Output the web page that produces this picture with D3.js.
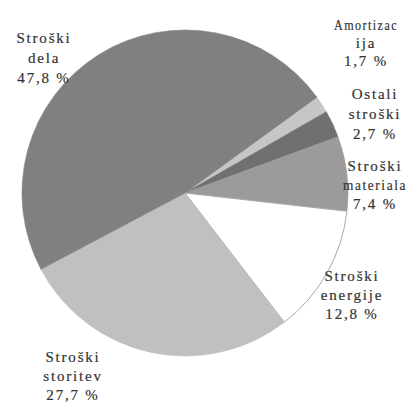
<!DOCTYPE html>
<html lang="sl">
<head>
<meta charset="UTF-8">
<title>Struktura stroškov</title>
<script src="https://cdn.jsdelivr.net/npm/d3@7"></script>
<style>
  body { margin: 0; background: #fff; }
</style>
</head>
<body>
<svg width="416" height="403"></svg>
<script>
// podatki (order = clockwise from upper right)
const categories = ['Amortizacija', 'Ostali stroški', 'Stroški materiala', 'Stroški energije', 'Stroški storitev', 'Stroški dela'];
const values = [1.7, 2.7, 7.4, 12.8, 27.7, 47.8];
const labelLines = [
  ['Amortizac', 'ija', '1,7 %'],
  ['Ostali', 'stroški', '2,7 %'],
  ['Stroški', 'materiala', '7,4 %'],
  ['Stroški', 'energije', '12,8 %'],
  ['Stroški', 'storitev', '27,7 %'],
  ['Stroški', 'dela', '47,8 %']
];

// layout
const colors = ['#c6c6c6', '#707070', '#9b9b9b', '#ffffff', '#c0c0c0', '#808080'];
const labelPos = [[366, 30, 18], [375, 99, 20], [375, 171, 19], [352, 281, 19], [73, 362, 19], [44, 43, 20]]; // x, first baseline, line height
const cx = 185, cy = 193, r = 163;
const start = 54 * Math.PI / 180;

const svg = d3.select('svg');
const g = svg.append('g').attr('transform', `translate(${cx},${cy})`);

const pie = d3.pie().sort(null).startAngle(start).endAngle(start + 2 * Math.PI);
const arc = d3.arc().innerRadius(0).outerRadius(r);

const data = pie(values);

g.selectAll('path')
  .data(data)
  .enter()
  .append('path')
  .attr('d', arc)
  .attr('fill', (d, i) => colors[i])
  .attr('stroke', (d, i) => colors[i] === '#ffffff' ? '#a8a8a8' : colors[i])
  .attr('stroke-width', (d, i) => colors[i] === '#ffffff' ? 1 : 0.6);

// labels
const labels = svg.selectAll('text.lbl')
  .data(categories)
  .enter()
  .append('text')
  .attr('class', 'lbl')
  .attr('text-anchor', 'middle')
  .style('font-family', "'Liberation Serif'")
  .style('font-size', '15px')
  .style('letter-spacing', '1.8px')
  .attr('fill', '#333')
  .attr('stroke', '#333')
  .attr('stroke-width', 0.2);

labels.each(function (d, i) {
  const [x, y0, lh] = labelPos[i];
  const t = d3.select(this);
  labelLines[i].forEach((line, j) => {
    const ts = t.append('tspan')
      .attr('x', x)
      .attr('y', y0 + j * lh)
      .text(line);
    if (ts.node().getComputedTextLength() > 68) {
      ts.attr('textLength', 64).attr('lengthAdjust', 'spacingAndGlyphs');
    }
  });
});
</script>
</body>
</html>
